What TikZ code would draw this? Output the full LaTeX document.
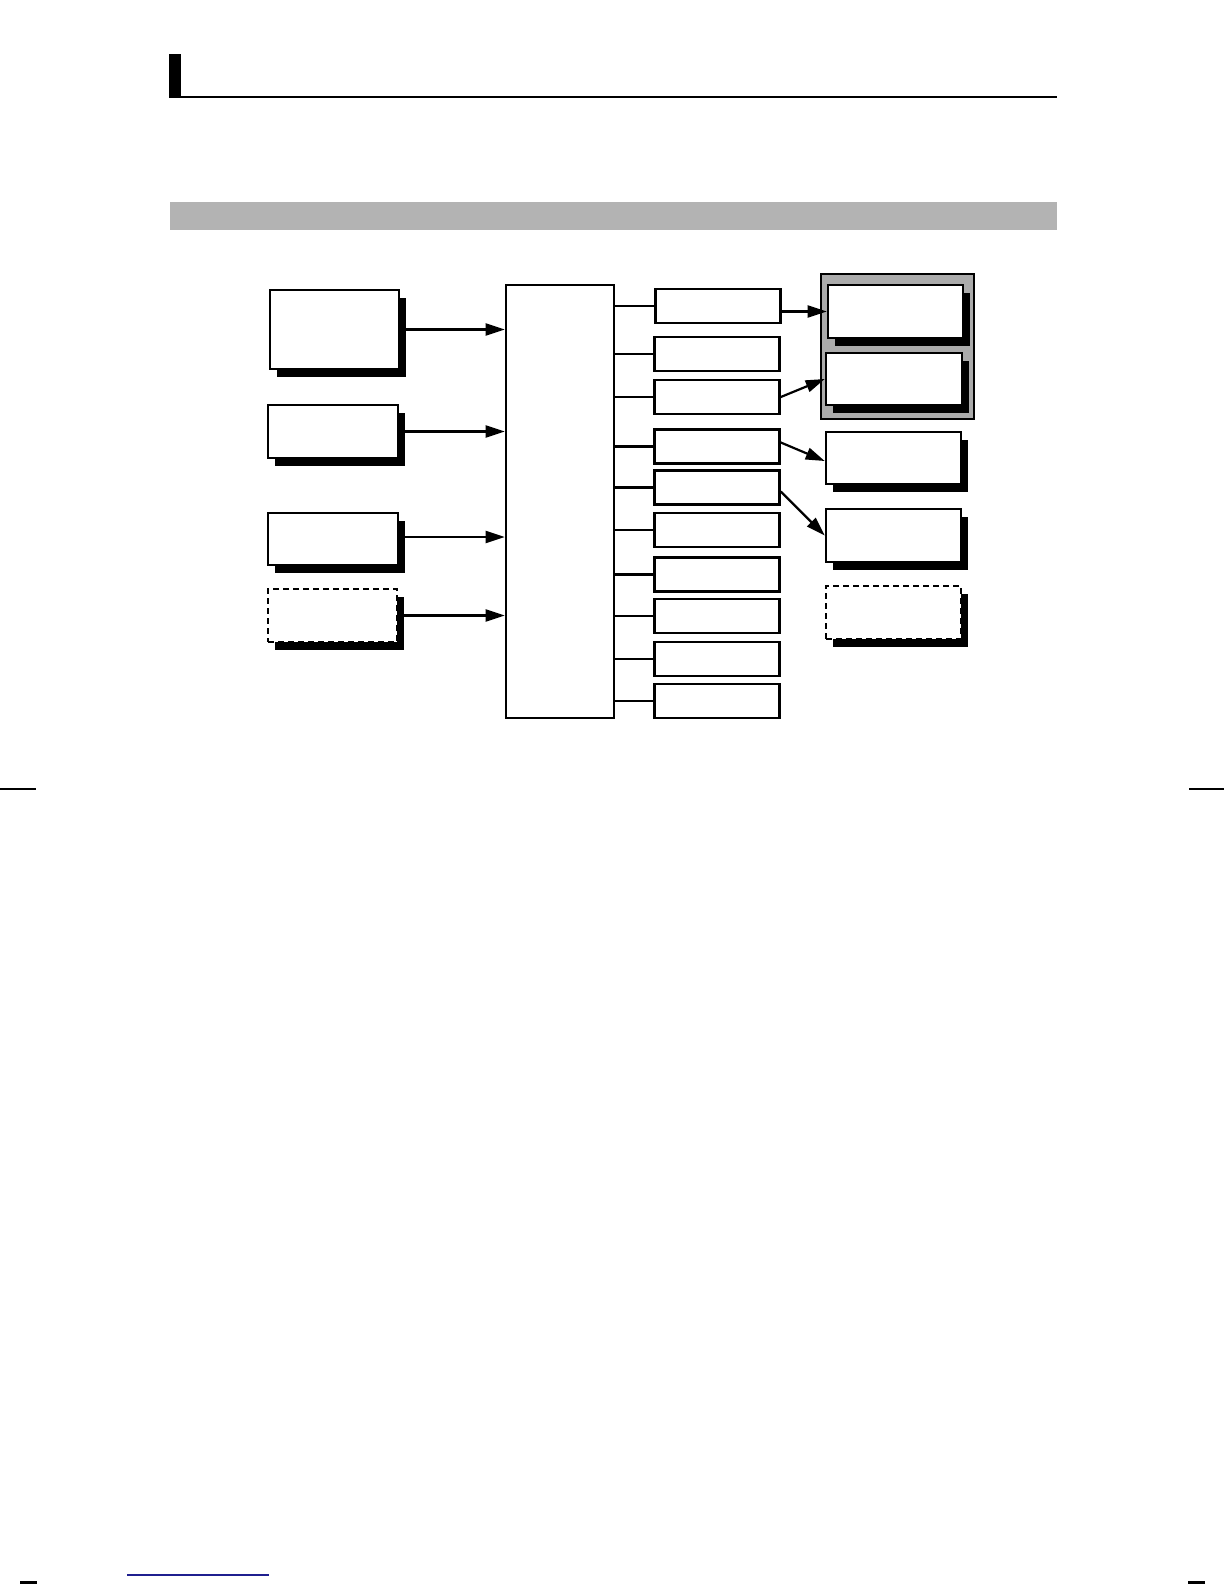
\documentclass[tikz,border=0pt]{standalone}
\usetikzlibrary{shadows,arrows.meta}
\definecolor{bandgray}{HTML}{B3B3B3}
\definecolor{stipple}{HTML}{ABABAB}
\definecolor{linkblue}{HTML}{1F1F8F}
\begin{document}
\begin{tikzpicture}[x=0.5pt,y=-0.5pt,
  box/.style={draw=black,fill=white,line width=1.3pt,inner sep=0pt,
    drop shadow={shadow xshift=3.5pt,shadow yshift=-4pt,fill=black,opacity=1}},
  dbox/.style={box,dashed,dash pattern=on 3pt off 2pt},
  plain/.style={draw=black,fill=white,line width=1.3pt,inner sep=0pt},
  mid/.style={plain,minimum width=62.5pt,minimum height=17pt},
  arr/.style={line width=1.1pt,-{Triangle[length=9.5pt,width=6pt]}},
  tick/.style={line width=1.1pt}]
\useasboundingbox (0,0) rectangle (1224,1584);
% header
\fill[black] (169,54) rectangle (181,97);
\draw[line width=1.2pt] (169,97) -- (1057,97);
\fill[bandgray] (170,202) rectangle (1057,230);
% crop marks
\draw[line width=0.7pt] (0,789) -- (36,789);
\draw[line width=0.7pt] (1189,789) -- (1224,789);
\fill[black] (20,1581) rectangle (37,1584);
\fill[black] (1188,1581) rectangle (1205,1584);
\draw[linkblue,line width=0.8pt] (127,1575) -- (269,1575);
% left boxes
\node[box,minimum width=64.5pt,minimum height=39.5pt] (L1) at (334.5,329.5) {};
\node[box,minimum width=65pt,minimum height=26.5pt] (L2) at (333,431.5) {};
\node[box,minimum width=65pt,minimum height=26pt] (L3) at (333,539) {};
\node[dbox,minimum width=64.5pt,minimum height=26.5pt] (L4) at (332.5,615.5) {};
% central box
\node[plain,minimum width=54pt,minimum height=216.5pt] (C) at (560,501.5) {};
% middle boxes
\node[mid] (M1) at (718,306) {};
\node[mid] (M2) at (717,354) {};
\node[mid] (M3) at (717,397) {};
\node[mid] (M4) at (717,446.5) {};
\node[mid] (M5) at (717,487.5) {};
\node[mid] (M6) at (717,530) {};
\node[mid] (M7) at (717,574.5) {};
\node[mid] (M8) at (717,616) {};
\node[mid] (M9) at (717,659) {};
\node[mid] (M10) at (717,701) {};
% frame
\node[draw=black,fill=stipple,line width=1.2pt,inner sep=0pt,
  minimum width=76.5pt,minimum height=72.5pt] (F) at (897.5,346.5) {};
\node[box,minimum width=67.5pt,minimum height=26.5pt] (R1) at (895.5,311.5) {};
\node[box,minimum width=68pt,minimum height=26pt] (R2) at (894,379) {};
% right boxes
\node[box,minimum width=67.5pt,minimum height=26pt] (R3) at (893.5,458) {};
\node[box,minimum width=67.5pt,minimum height=26.5pt] (R4) at (893.5,535.5) {};
\node[dbox,minimum width=67.5pt,minimum height=26.5pt] (R5) at (893.5,612.5) {};
% input arrows
\draw[arr] (L1.east) -- (L1.east -| C.west);
\draw[arr] (L2.east) -- (L2.east -| C.west);
\draw[arr] ([yshift=1pt]L3.east) -- ([yshift=1pt]L3.east -| C.west);
\draw[arr] (L4.east) -- (L4.east -| C.west);
% ticks
\foreach \m in {M1,M2,M3,M4,M5,M6,M7,M8,M9,M10}
  \draw[tick] (C.east |- \m.west) -- (\m.west);
% output arrows
\draw[arr] (M1.east |- R1.west) -- (R1.west);
\draw[arr] (M3.east) -- (R2.west);
\draw[arr] ([yshift=2pt]M4.east) -- ([yshift=-1.5pt]R3.west);
\draw[arr] ([yshift=-2pt]M5.east) -- (R4.west);
\end{tikzpicture}
\end{document}
